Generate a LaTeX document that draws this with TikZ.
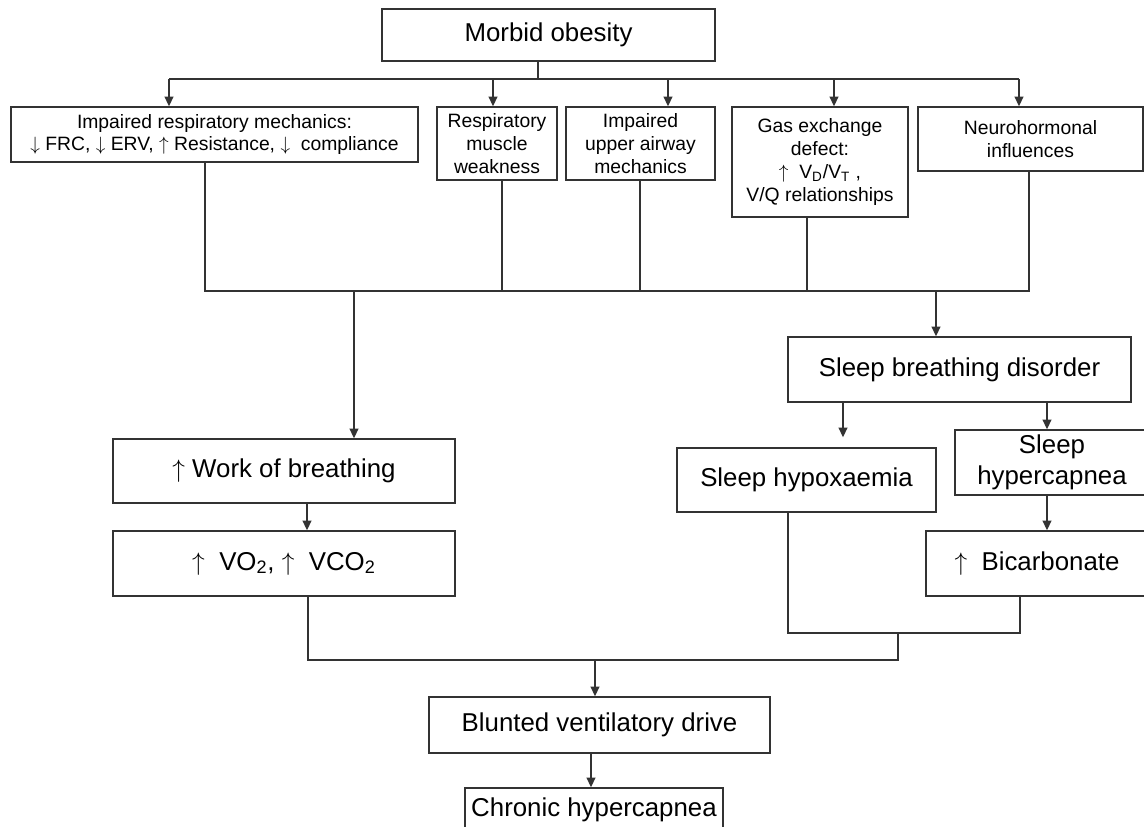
\documentclass[tikz,border=0pt]{standalone}
\usepackage{fontspec}
\setmainfont{Liberation Sans}
\usetikzlibrary{arrows.meta}

\begin{document}
\begin{tikzpicture}[x=0.02cm, y=-0.02cm,
        box/.style={draw=black!80, line width=0.8pt, inner sep=0pt, align=center},
        big/.style={font=\fontsize{14.7}{17.6}\selectfont},
        small/.style={font=\fontsize{11}{13}\selectfont},
        conn/.style={draw=black!80, line width=0.8pt},
        arr/.style={conn, -{Triangle[width=5pt, length=5.5pt]}}]
        \useasboundingbox (0, 0) rectangle (1144, 827);
        \clip (0, 0) rectangle (1144, 827);
        \fill[white] (0, 0) rectangle (1144, 827);

        \node[box, big, minimum width=6.66cm, minimum height=1.04cm] (obes) at (548.5, 35) {Morbid obesity};
        \node[box, small, minimum width=8.14cm, minimum height=1.10cm] (mech) at (214.5, 134.5)
            {Impaired respiratory mechanics:\\ $\downarrow$ FRC, $\downarrow$ ERV, $\uparrow$ Resistance, $\downarrow$\ \ compliance};
        \node[box, small, minimum width=2.40cm, minimum height=1.46cm] (musc) at (497, 143.5) {Respiratory\\ muscle\\ weakness};
        \node[box, small, minimum width=2.98cm, minimum height=1.46cm] (uair) at (640.5, 143.5) {Impaired\\ upper airway\\ mechanics};
        \node[box, small, minimum width=3.52cm, minimum height=2.20cm] (gas) at (820, 162)
            {Gas exchange\\ defect:\\ $\uparrow$\ \ V\textsubscript{D}/V\textsubscript{T} ,\\ V/Q relationships};
        \node[box, small, minimum width=4.50cm, minimum height=1.28cm] (neuro) at (1030.5, 139) {Neurohormonal\\ influences};

        \node[box, big, minimum width=6.86cm, minimum height=1.30cm] (sbd) at (959.5, 369.5) {Sleep breathing disorder};
        \node[box, big, minimum width=6.84cm, minimum height=1.28cm] (wob) at (284, 471) {$\uparrow$ Work of breathing};
        \node[box, big, minimum width=6.84cm, minimum height=1.30cm] (vo) at (284, 563.5)
            {$\uparrow$\ \ VO\textsubscript{2}, $\uparrow$\ \ VCO\textsubscript{2}};
        \node[box, big, minimum width=5.18cm, minimum height=1.28cm] (hypox) at (806.5, 480) {Sleep hypoxaemia};
        \node[box, big, minimum width=3.88cm, minimum height=1.30cm] (hcap) at (1052, 462.5) {Sleep\\ hypercapnea};
        \node[box, big, minimum width=4.44cm, minimum height=1.30cm] (bicarb) at (1037, 563.5) {$\uparrow$\ \ Bicarbonate};
        \node[box, big, minimum width=6.82cm, minimum height=1.12cm] (blunt) at (599.5, 725) {Blunted ventilatory drive};
        \node[box, big, minimum width=5.16cm, minimum height=0.88cm] (chron) at (594, 810) {Chronic hypercapnea};

        \coordinate (stem) at (538, 79);
        \coordinate (t1) at (169, 79);
        \coordinate (t2) at (493, 79);
        \coordinate (t3) at (668, 79);
        \coordinate (t4) at (834, 79);
        \coordinate (t5) at (1019, 79);
        \draw[conn] (stem |- obes.south) -- (stem);
        \draw[conn] (t1) -- (t5);
        \draw[arr] (t1) -- (t1 |- mech.north);
        \draw[arr] (t2) -- (t2 |- musc.north);
        \draw[arr] (t3) -- (t3 |- uair.north);
        \draw[arr] (t4) -- (t4 |- gas.north);
        \draw[arr] (t5) -- (t5 |- neuro.north);

        \coordinate (m1) at (205, 291);
        \coordinate (m2) at (502, 291);
        \coordinate (m3) at (640, 291);
        \coordinate (m4) at (807, 291);
        \coordinate (m5) at (1029, 291);
        \coordinate (w) at (354, 291);
        \coordinate (s) at (936, 291);
        \draw[conn] (m1 |- mech.south) -- (m1) -- (m5) -- (m5 |- neuro.south);
        \draw[conn] (m2 |- musc.south) -- (m2);
        \draw[conn] (m3 |- uair.south) -- (m3);
        \draw[conn] (m4 |- gas.south) -- (m4);
        \draw[arr] (w) -- (w |- wob.north);
        \draw[arr] (s) -- (s |- sbd.north);

        \coordinate (sa) at (843, 402);
        \coordinate (sb) at (1047, 402);
        \coordinate (wa) at (307, 503);
        \draw[arr, shorten >=0.2cm] (sa) -- (sa |- hypox.north);
        \draw[arr] (sb) -- (sb |- hcap.north);
        \draw[arr] (sb |- hcap.south) -- (sb |- bicarb.north);
        \draw[arr] (wa) -- (wa |- vo.north);

        \coordinate (ha) at (788, 633);
        \coordinate (hb) at (1020, 633);
        \coordinate (hc) at (898, 633);
        \coordinate (hd) at (898, 660);
        \coordinate (he) at (308, 660);
        \coordinate (bf) at (595, 660);
        \coordinate (bg) at (591, 753);
        \draw[conn] (ha |- hypox.south) -- (ha) -- (hb) -- (hb |- bicarb.south);
        \draw[conn] (hc) -- (hd) -- (he) -- (he |- vo.south);
        \draw[arr] (bf) -- (bf |- blunt.north);
        \draw[arr] (bg) -- (bg |- chron.north);
\end{tikzpicture}
\end{document}
